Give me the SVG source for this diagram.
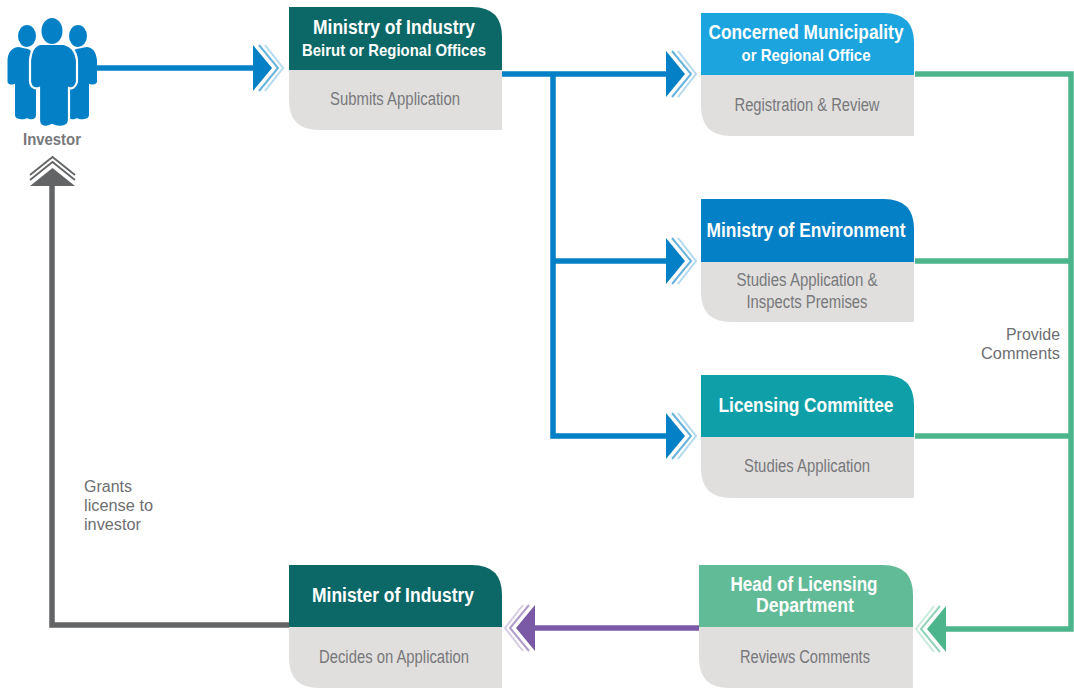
<svg xmlns="http://www.w3.org/2000/svg" width="1074" height="689" viewBox="0 0 1074 689">
<style>
text{font-family:"Liberation Sans",Arial,sans-serif;text-anchor:middle}
.h{fill:#fff;font-weight:700;font-size:20px}
.s{fill:#fff;font-weight:700;font-size:17px}
.b{fill:#77787b;font-size:18px}
.n{fill:#6d6e71;font-size:16px;font-family:"Liberation Sans",Arial,sans-serif}
.body{fill:#e0dfdd}
.c{fill:none;stroke-width:5.5}
.blue{stroke:#0480c6}.green{stroke:#4db58c}.purple{stroke:#7a5aa6}.gray{stroke:#636466}
</style>
<defs>
<g id="ah">
<path d="M0-23 19 0 0 23Z" fill="currentColor"/>
<path d="M6-23 25 0 6 23" fill="none" stroke="currentColor" stroke-opacity=".6" stroke-width="2"/>
<path d="M12-23 30 0 12 23" fill="none" stroke="currentColor" stroke-opacity=".3" stroke-width="2"/>
</g>
</defs>
<g id="connectors">
<path class="c blue" d="M96 68H254"/>
<path class="c blue" d="M500 74H667M553 74V436H667M553 261H667"/>
<path class="c green" d="M915 74H1071V629H938M915 261H1071M915 436H1071"/>
<path class="c purple" d="M699 628H528"/>
<path class="c gray" d="M289 625H52V180"/>
<use href="#ah" transform="translate(253 68)" color="#0480c6"/>
<use href="#ah" transform="translate(666 74)" color="#0480c6"/>
<use href="#ah" transform="translate(666 261)" color="#0480c6"/>
<use href="#ah" transform="translate(666 436)" color="#0480c6"/>
<use href="#ah" transform="translate(946 629) rotate(180)" color="#4db58c"/>
<use href="#ah" transform="translate(535 628) rotate(180)" color="#7a5aa6"/>
<g id="arrow-up-gray" fill="none" stroke="#636466" stroke-width="1.800">
<path d="M30 186 52.500 168 75 186Z" fill="#636466" stroke="none"/>
<path d="M30 180 52.500 162 75 180"/>
<path d="M30 175 52.500 157 75 175"/>
</g>
</g>
<g id="investor">
<g fill="#0480c6">
<ellipse cx="27" cy="36" rx="9" ry="11"/>
<ellipse cx="78" cy="36" rx="9" ry="11"/>
<path d="M18 47C11 48 8 53 7.500 60V82C8 85 13 85 14 84H15V115C15 120 25 120 27 118C30 120 36 120 36 115V60L30 50C26 48 22 48 18 47Z"/>
<path d="M87 47C94 48 96 53 97 60V82C96 85 91 85 90 84H89V115C89 120 79 120 77 118C74 120 68 120 68 115V60L74 50C78 48 83 48 87 47Z"/>
<path d="M40 44H64C72 46 76 52 77 60V82C75 88 72 89 69 88V120C69 128 57 128 52 125C47 128 39 128 39 120V88C35 89 31 88 30 82V60C31 52 33 46 40 44Z" stroke="#fff" stroke-width="2.200"/>
<ellipse cx="52" cy="31" rx="10.500" ry="13"/>
</g>
<text x="52" y="145" font-size="16" font-weight="700" fill="#77787b" textLength="58" lengthAdjust="spacingAndGlyphs">Investor</text>
</g>
<g id="ministry-of-industry">
<path class="body" d="M289 70H502V130H319Q289 130 289 100Z"/>
<path fill="#0b6867" d="M289 7H472Q502 7 502 37V70H289Z"/>
<text class="h" x="394" y="34" textLength="162" lengthAdjust="spacingAndGlyphs">Ministry of Industry</text>
<text class="s" x="394" y="56" textLength="184" lengthAdjust="spacingAndGlyphs">Beirut or Regional Offices</text>
<text class="b" x="395" y="105" textLength="130" lengthAdjust="spacingAndGlyphs">Submits Application</text>
</g>
<g id="concerned-municipality">
<path class="body" d="M701 75H914V136H731Q701 136 701 106Z"/>
<path fill="#1ba4de" d="M701 13H884Q914 13 914 43V75H701Z"/>
<text class="h" x="806" y="39" textLength="195" lengthAdjust="spacingAndGlyphs">Concerned Municipality</text>
<text class="s" x="806" y="61" textLength="129" lengthAdjust="spacingAndGlyphs">or Regional Office</text>
<text class="b" x="807" y="111" textLength="145" lengthAdjust="spacingAndGlyphs">Registration &amp; Review</text>
</g>
<g id="ministry-of-environment">
<path class="body" d="M701 262H914V322H731Q701 322 701 292Z"/>
<path fill="#0480c6" d="M701 199H884Q914 199 914 229V262H701Z"/>
<text class="h" x="806" y="237" textLength="199" lengthAdjust="spacingAndGlyphs">Ministry of Environment</text>
<text class="b" x="807" y="286" textLength="141" lengthAdjust="spacingAndGlyphs">Studies Application &amp;</text>
<text class="b" x="807" y="308" textLength="121" lengthAdjust="spacingAndGlyphs">Inspects Premises</text>
</g>
<g id="licensing-committee">
<path class="body" d="M701 437H914V498H731Q701 498 701 468Z"/>
<path fill="#0f9fa8" d="M701 375H884Q914 375 914 405V437H701Z"/>
<text class="h" x="806" y="412" textLength="175" lengthAdjust="spacingAndGlyphs">Licensing Committee</text>
<text class="b" x="807" y="472" textLength="126" lengthAdjust="spacingAndGlyphs">Studies Application</text>
</g>
<g id="head-of-licensing">
<path class="body" d="M699 627H913V688H729Q699 688 699 658Z"/>
<path fill="#62bb97" d="M699 565H883Q913 565 913 595V627H699Z"/>
<text class="h" x="804" y="591" textLength="147" lengthAdjust="spacingAndGlyphs">Head of Licensing</text>
<text class="h" x="805" y="612" textLength="98" lengthAdjust="spacingAndGlyphs">Department</text>
<text class="b" x="805" y="663" textLength="130" lengthAdjust="spacingAndGlyphs">Reviews Comments</text>
</g>
<g id="minister-of-industry">
<path class="body" d="M289 627H502V688H319Q289 688 289 658Z"/>
<path fill="#0b6867" d="M289 565H472Q502 565 502 595V627H289Z"/>
<text class="h" x="393" y="602" textLength="162" lengthAdjust="spacingAndGlyphs">Minister of Industry</text>
<text class="b" x="394" y="663" textLength="150" lengthAdjust="spacingAndGlyphs">Decides on Application</text>
</g>
<g id="labels">
<text class="n" x="1060" y="340" style="text-anchor:end" textLength="54" lengthAdjust="spacingAndGlyphs">Provide</text>
<text class="n" x="1060" y="359" style="text-anchor:end" textLength="79" lengthAdjust="spacingAndGlyphs">Comments</text>
<text class="n" x="84" y="492" style="text-anchor:start" textLength="48" lengthAdjust="spacingAndGlyphs">Grants</text>
<text class="n" x="84" y="511" style="text-anchor:start" textLength="69" lengthAdjust="spacingAndGlyphs">license to</text>
<text class="n" x="84" y="530" style="text-anchor:start" textLength="57" lengthAdjust="spacingAndGlyphs">investor</text>
</g>
</svg>
